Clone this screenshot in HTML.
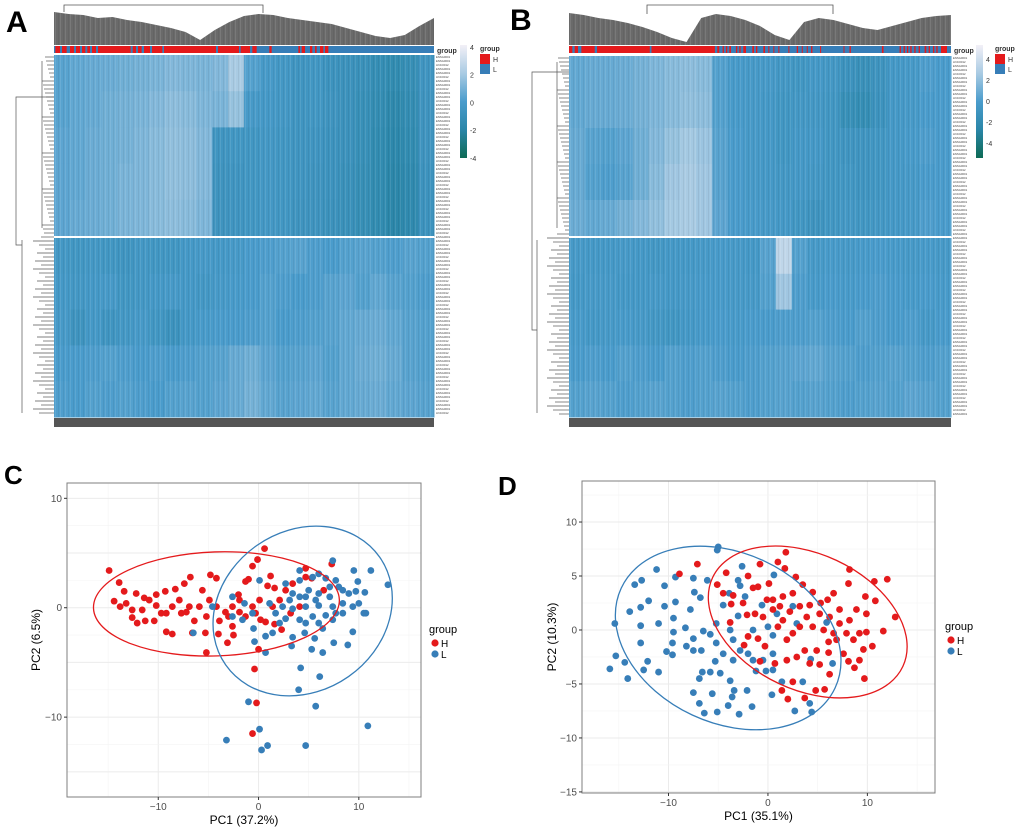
<!DOCTYPE html>
<html><head><meta charset="utf-8"><style>
html,body{margin:0;padding:0;background:#fff;}
svg{display:block;font-family:"Liberation Sans",Arial,sans-serif;}
</style></head><body>
<svg id="fig" width="1020" height="831" viewBox="0 0 1020 831">
<defs>
<linearGradient id="cbar" x1="0" y1="0" x2="0" y2="1">
<stop offset="0" stop-color="#f2f0f7"/><stop offset="0.25" stop-color="#a9cbe3"/><stop offset="0.5" stop-color="#4a9ccc"/><stop offset="0.75" stop-color="#2a86a8"/><stop offset="1" stop-color="#0e6b55"/>
</linearGradient>
<pattern id="stripes" width="5" height="4" patternUnits="userSpaceOnUse"><rect x="0" y="0" width="1" height="4" fill="#fff" opacity="0.10"/><rect x="3" y="0" width="1" height="4" fill="#000" opacity="0.06"/></pattern>
</defs>
<g id="layer"></g>
</svg>
<script>
// ---------- Heatmap data (coarse expression bands, 10 row-bands x 24 column-blocks) ----------
const heatA = [
[0.3,0.5,0.6,0.7,0.8,0.9,1.0,1.2,1.1,1.0,1.2,2.0,0.2,-0.2,-0.4,-0.6,-0.5,-0.8,-0.9,-1.0,-1.3,-1.5,-1.2,-0.6],
[0.3,0.5,0.6,0.8,0.9,1.0,1.2,1.4,1.3,1.1,1.0,1.6,-0.2,-0.3,-0.4,-0.6,-0.5,-0.7,-0.9,-1.1,-1.4,-1.7,-1.4,-0.7],
[0.4,0.5,0.7,0.8,0.9,1.1,1.3,1.5,1.4,1.2,-0.6,-0.5,-0.5,-0.4,-0.5,-0.6,-0.6,-0.8,-0.9,-1.1,-1.5,-1.8,-1.5,-0.7],
[0.4,0.5,0.7,0.8,1.0,1.1,1.3,1.5,1.4,1.2,-0.7,-0.6,-0.5,-0.4,-0.5,-0.6,-0.7,-0.8,-1.0,-1.2,-1.5,-1.9,-1.6,-0.8],
[0.4,0.6,0.7,0.8,1.0,1.1,1.3,1.4,1.3,1.1,-0.7,-0.6,-0.5,-0.4,-0.5,-0.7,-0.7,-0.9,-1.0,-1.2,-1.5,-1.9,-1.6,-0.8],
[-0.4,-0.5,-0.4,-0.5,-0.6,-0.4,-0.5,-0.5,-0.3,-0.2,-0.3,-0.2,0,0.1,0.2,0.3,0.1,0,0.2,0.3,0.2,0.1,0.3,0.2],
[-0.3,-0.4,-0.3,-0.2,-0.5,-0.4,-0.3,-0.2,-0.3,-0.4,-0.2,-0.1,0,0.2,0.1,0,0.1,0.3,0.4,0.2,0.5,0.3,0.2,0.1],
[-0.2,-0.7,-0.3,-0.6,-0.4,-0.2,-0.5,-0.8,-0.3,-0.1,0,0,0.1,0.2,0,0.1,0.2,0.3,0.5,0.6,0.7,0.5,0.3,0.2],
[0,0,0.1,0.2,0.1,0,0.1,0,0.1,0.2,0.3,0.6,0.8,0.4,0.2,0.3,0.4,0.2,0.5,0.7,0.8,0.6,0.3,0.2],
[0.1,0,0.2,0.1,0.2,0.1,0,0.2,0.3,0.2,0.4,0.6,0.9,0.5,0.3,0.4,0.5,0.3,0.5,0.6,0.7,0.5,0.4,0.3]
];
const heatB = [
[0.5,0.6,0.6,0.7,0.9,1.1,1.3,1.4,1.3,0.2,-0.1,-0.2,-0.2,-0.4,-0.5,-0.3,-0.4,-0.8,-1.0,-0.7,-0.3,-0.2,0.1,0.0],
[0.5,0.6,0.6,0.7,0.9,1.1,1.3,1.5,1.4,0.2,-0.1,-0.2,-0.3,-0.5,-0.4,-0.4,-0.5,-1.1,-1.3,-0.8,-0.3,-0.2,0,0],
[0.6,0.3,0.2,0.4,0.8,1.2,1.6,1.9,1.7,0.3,0,-0.2,-0.3,-0.5,-0.3,-0.3,-0.5,-0.6,-0.6,-0.5,-0.3,-0.1,0.1,0],
[0.6,0.2,0.1,0.3,0.8,1.3,1.8,2.0,1.8,0.3,0,-0.2,-0.3,-0.4,-0.3,-0.4,-0.5,-0.5,-0.6,-0.5,-0.3,-0.2,0,0],
[0.7,0.5,0.6,0.9,1.2,1.5,1.9,2.0,1.8,0.4,0,-0.1,-0.2,-0.3,-0.5,-0.7,-0.5,-0.4,-0.5,-0.4,-0.3,-0.2,0.1,0],
[-0.2,-0.3,-0.3,-0.2,-0.3,-0.4,-0.3,-0.3,-0.2,-0.1,-0.2,-0.3,0.3,2.6,0.2,-0.2,-0.1,-0.2,-0.1,0,-0.1,-0.2,-0.1,-0.2],
[-0.3,-0.2,-0.2,-0.3,-0.3,-0.2,-0.3,-0.2,-0.1,-0.1,-0.2,-0.2,0.2,1.8,0.1,-0.1,0,-0.1,0,0.1,0,-0.1,0,-0.1],
[-0.1,-0.3,-0.2,-0.1,-0.2,-0.4,-0.5,-0.3,-0.1,0,-0.1,0,0,0.1,0.1,0.2,0.1,0,0.2,0.1,0,0.1,-0.2,0],
[0,0.1,0,0.2,0.1,0,0.2,0.1,0.2,0.1,0,0.1,0.2,0.3,0.4,0.5,0.3,0.2,0.1,0.2,0.3,0.2,0.1,0.2],
[0.2,0.3,0.2,0.1,0.2,0.3,0.2,0.1,0.2,0.3,0.2,0.1,0.2,0.3,0.2,0.3,0.2,0.1,0.2,0.3,0.2,0.4,0.3,0.2]
];
// group annotation: runs of "H" samples on a 0..1140 sample-order scale; rest are "L"
const groupA_H = [[4,18],[24,38],[48,60],[66,78],[84,94],[100,108],[114,126],[132,230],[236,246],[252,263],[270,288],[294,325],[330,486],[492,555],[560,588],[595,608],[646,653],[733,738],[743,753],[768,775],[783,788],[798,808],[813,823]];
const groupB_H = [[0,10],[17,27],[37,77],[84,242],[247,437],[444,450],[460,464],[470,474],[480,485],[500,504],[510,514],[522,530],[549,554],[560,564],[582,587],[597,600],[612,615],[627,630],[657,660],[682,686],[697,700],[712,715],[725,729],[752,755],[822,825],[840,844],[937,942],[990,994],[1002,1006],[1012,1016],[1022,1026],[1034,1038],[1047,1051],[1065,1070],[1077,1081],[1090,1094],[1100,1104],[1114,1132]];
const cbarTicks = ["4","2","0","-2","-4"];

// ---------- PCA data ----------
const C_H_x=[-14.9,-13.9,-13.4,-14.4,-13.8,-12.6,-12.6,-12.1,-11.3,-10.4,-12.2,-11.4,-10.2,-9.3,-8.3,-9.2,-8.6,-9.7,-7.7,-7.4,-6.8,-6.6,-6.4,-5.6,-5.2,-5.3,-4.8,-4.2,-4.0,-3.1,-3.0,-2.5,-2.0,-1.3,-1.0,-0.6,-0.1,0.6,1.2,0.9,1.6,-4.2,-5.9,-7.9,-10.9,-13.2,-0.6,-0.3,0.2,0.7,1.6,2.3,2.7,3.4,3.2,4.1,4.7,4.7,5.3,6.5,7.3,0.0,-0.4,-0.2,-0.6,-2.6,-1.9,-1.3,-3.3,-4.9,-6.9,-7.2,-8.6,-9.2,-10.2,-11.6,-5.2,-3.9,-2.6,-1.9,0.1,1.4,2.1];
const C_H_y=[3.4,2.3,1.5,0.6,0.1,-0.2,-0.9,-1.4,-1.2,-1.2,1.3,0.9,1.2,1.5,1.7,-2.2,-2.4,-0.5,-0.5,2.2,2.8,-2.3,-1.2,1.6,-4.1,-2.3,3.0,2.7,-2.4,-3.2,-0.8,-2.5,1.2,2.4,2.6,3.8,4.4,5.4,2.9,2.0,1.8,0.1,0.1,0.7,0.7,0.4,0.1,-0.5,-1.1,-1.3,-1.5,-2.0,1.6,2.2,-0.5,0.1,3.6,2.8,2.7,1.6,4.0,-3.8,-5.6,-8.7,-11.5,0.1,-0.4,-0.8,-0.4,0.7,0.1,-0.4,0.1,-0.5,0.2,-0.2,-0.8,-1.2,-1.7,0.7,0.7,0.1,0.7];
const C_L_x=[7.4,9.5,11.2,12.9,9.9,10.6,10.7,9.4,8.9,7.5,6.4,5.3,3.3,4.2,6.1,4.0,5.7,10.9,4.7,0.9,0.3,0.1,-1.0,-3.2,0.7,-0.4,-0.5,0.7,1.4,-6.5,-4.6,-2.6,-1.4,0.1,2.7,4.1,5.4,6.7,7.7,8.4,9.0,10.0,8.4,7.1,6.0,5.0,4.1,3.1,2.4,3.4,4.7,6.0,7.4,8.4,6.7,5.4,4.1,2.7,2.1,4.7,6.0,7.4,6.4,4.6,5.6,3.4,1.7,1.1,-0.6,-1.6,-2.6,3.4,4.7,5.7,7.1,8.0,9.4,9.7,10.5,7.7,4.1,6.0];
const C_L_y=[4.3,3.4,3.4,2.1,2.4,1.4,-0.5,-2.2,-3.4,-3.2,-4.1,-3.8,-3.5,-5.5,-6.3,-7.5,-9.0,-10.8,-12.6,-12.6,-13.0,-11.1,-8.6,-12.1,-4.1,-3.1,-1.9,-2.6,-2.3,-2.3,0.1,1.0,0.4,2.5,2.2,2.5,2.8,2.7,2.5,1.6,1.3,0.4,0.4,1.0,1.3,1.6,1.0,0.7,0.1,-0.1,0.1,0.2,0.1,-0.5,-0.7,-0.8,-1.1,-1.0,-1.4,-1.4,-1.4,-1.1,-1.9,-2.3,-2.8,-2.7,-0.5,0.4,-0.5,-1.1,-0.8,1.3,1.0,0.7,1.9,1.9,0.1,1.5,-0.5,-0.5,3.4,3.1];
const D_H_x=[-8.9,-7.1,-5.1,-4.5,-4.2,-3.5,-3.7,-3.8,-2.5,-2.0,-1.5,-1.0,-0.8,0.1,1.0,1.8,1.7,2.8,3.5,4.5,5.3,6.0,6.6,8.1,8.2,10.7,12.0,10.8,9.8,12.8,11.6,10.5,9.6,9.7,9.2,8.7,8.1,7.6,6.2,5.7,4.8,3.7,2.5,2.0,1.4,0.7,-0.8,-0.3,-2.0,-2.4,-1.0,-1.3,-0.5,0.5,1.2,1.5,1.0,1.9,2.5,3.2,3.9,4.5,5.6,6.6,7.2,8.2,8.9,9.9,9.9,8.6,6.9,6.1,4.9,3.7,2.9,1.9,4.2,5.2,6.1,2.2,3.2,4.2,5.2,6.2,7.2,0.5,1.5,2.5,-0.1,-2.1,7.9,9.2];
const D_H_y=[5.2,6.1,4.2,3.4,5.3,3.2,2.4,0.7,2.5,5.0,3.9,4.0,6.1,4.3,6.3,7.2,5.7,4.9,4.2,3.5,2.5,2.8,3.4,4.3,5.6,4.5,4.7,2.7,3.1,1.2,-0.1,-1.5,-1.8,-4.5,-2.8,-3.5,-2.9,-2.2,-4.1,-5.5,-5.6,-6.3,-4.8,-6.4,-5.6,-3.1,-2.9,-1.5,-0.6,-1.4,-0.8,1.5,1.2,1.9,2.2,0.9,0.3,-0.9,-0.3,0.3,1.2,0.3,0,-0.3,0.6,0.9,1.9,1.5,-0.2,-0.9,-0.9,-1.1,-1.9,-1.9,-2.5,-2.8,-3.1,-3.2,-2.1,1.7,2.2,2.3,1.5,1.2,1.9,2.8,3.1,3.4,2.8,1.4,-0.3,-0.3];
const D_L_x=[-5.0,-5.1,-11.2,-12.7,-13.4,-13.9,-12.8,-12.0,-10.4,-9.3,-10.4,-11.0,-12.8,-15.4,-12.8,-12.1,-12.5,-11.0,-14.1,-14.4,-15.3,-15.9,-9.6,-9.6,-9.5,-9.5,-9.3,-8.3,-7.8,-7.5,-7.4,-6.8,-6.1,-7.5,-7.5,-6.7,-6.5,-5.8,-7.5,-6.9,-6.4,-5.1,-5.6,-6.9,-6.6,-5.8,-5.3,-4.8,-3.8,-3.4,-3.6,-4.0,-2.9,-2.1,-1.6,-1.2,-0.2,0.5,0.4,1.4,2.7,3.5,4.2,4.4,4.3,6.5,5.9,-2.6,-3.0,-2.8,-2.3,-3.0,-3.9,-4.5,-5.2,-5.2,-4.5,-3.5,-2.8,-2.0,-1.5,-0.5,0.6,-0.6,0.0,0.5,0.9,2.5,2.9,0.5,-3.5,-3.8,-1.5,-8.2,-10.2];
const D_L_y=[7.7,7.4,5.6,4.6,4.2,1.7,2.1,2.7,4.1,4.9,2.2,0.6,0.4,0.6,-1.2,-2.9,-3.7,-3.9,-4.5,-3.0,-2.4,-3.6,-2.3,-1.2,-0.2,1.1,2.6,0.2,1.9,4.8,3.5,3.0,4.6,-0.8,-1.9,-1.9,-0.1,-0.4,-5.8,-6.8,-7.7,-7.6,-5.9,-4.5,-3.9,-3.9,-2.9,-4.0,-4.7,-5.6,-6.2,-7.0,-7.8,-5.6,-7.1,-3.8,-3.8,-3.7,-6.0,-4.8,-7.5,-4.8,-6.8,-7.6,-2.7,-3.1,0.7,5.9,4.6,4.1,3.1,1.3,3.4,2.3,0.6,-1.2,-2.2,-2.8,-1.9,-2.2,-2.8,-2.8,5.1,2.3,0.3,-0.5,1.5,2.2,0.6,-2.2,-0.9,0,0,-1.5,-2.0];
// 68% confidence ellipses: [cx, cy] in data units
const C_ellH=[-4.2,0.35], C_ellL=[4.4,-0.3], D_ellL=[-4.0,-0.74], D_ellH=[4.0,0.74];
const C_xticks=[-10,0,10], C_yticks=[-10,0,10], D_xticks=[-10,0,10], D_yticks=[-15,-10,-5,0,5,10];

const NS="http://www.w3.org/2000/svg";
const layer=document.getElementById('layer');
function mk(tag,attrs,parent){const e=document.createElementNS(NS,tag);for(const k in attrs)e.setAttribute(k,attrs[k]);(parent||layer).appendChild(e);return e;}
function txt(s,attrs,parent){const e=mk('text',attrs,parent);e.textContent=s;return e;}
const RED="#e41a1c", BLUE="#377eb8";

function hcolor(v){
  const stops=[[-4,[14,107,85]],[-2,[42,134,168]],[0,[74,156,204]],[2,[169,203,227]],[4,[242,240,247]]];
  v=Math.max(-4,Math.min(4,v));
  for(let i=0;i<stops.length-1;i++){const a=stops[i],b=stops[i+1];if(v<=b[0]){const t=(v-a[0])/(b[0]-a[0]);const c=a[1].map((x,j)=>Math.round(x+(b[1][j]-x)*t));return `rgb(${c[0]},${c[1]},${c[2]})`;}}
  return "#fff";
}

function heatmap(o){
  const g=mk('g',{});
  
  
  txt(o.letter,{x:o.lx,y:o.ly,'font-size':30,'font-weight':'bold',fill:'#000'},g);
  // column dendrogram
  const dg=mk('g',{},g);
  
  
  let pts=`${o.x0},45 `;
  o.profile.forEach((p,i)=>{const x=o.x0+(o.x1-o.x0)*i/(o.profile.length-1);pts+=`${x},${p} `;});
  pts+=`${o.x1},45`;
  mk('polygon',{points:pts,fill:'#6a6a6a'},dg);
  mk('polygon',{points:pts,fill:'url(#stripes)'},dg);
  mk('path',{d:`M${o.br[0]},${o.br[2]} V5 H${o.br[1]} V${o.br[3]}`,stroke:'#555',fill:'none','stroke-width':0.8},dg);
  // group bar
  const gb=mk('g',{},g);
  
  
  const W=o.x1-o.x0, sc=W/o.N;
  mk('rect',{x:o.x0,y:46,width:W,height:7,fill:BLUE},gb);
  o.groupH.forEach(r=>{const s=mk('rect',{x:o.x0+r[0]*sc,y:46,width:(r[1]-r[0])*sc,height:7,fill:RED},gb);});
  txt('group',{x:o.x1+3,y:53,'font-size':7,'font-weight':'bold',fill:'#333'},g);
  // cells
  const cg=mk('g',{},g);
  
  
  const nr=o.data.length, nc=o.data[0].length, cw=W/nc;
  const topH=(o.split-o.y0)/5, botH=(o.y1-o.split-2)/5;
  o.data.forEach((row,ri)=>{
    const y= ri<5 ? o.y0+ri*topH : o.split+2+(ri-5)*botH;
    const h= ri<5 ? topH : botH;
    row.forEach((v,ci)=>{const c=mk('rect',{x:o.x0+ci*cw,y:y,width:cw+0.5,height:h+0.5,fill:hcolor(v)},cg);});
  });
  mk('rect',{x:o.x0,y:o.y0,width:W,height:o.y1-o.y0,fill:'url(#stripes)'},cg);
  mk('rect',{x:o.x0,y:o.split,width:W,height:2,fill:'#fff'},cg);
  // column labels strip
  mk('rect',{x:o.x0,y:o.y1+1,width:W,height:9,fill:'#555'},g);
  // row dendrogram
  const rd=mk('g',{stroke:'#555',fill:'none','stroke-width':0.7},g);
  
  
  mk('path',{d:`M${o.x0},${o.rdTopMid} H${o.rdRoot} V${o.rdBotMid} H${o.x0-32}`},rd);
  for(let y=o.y0+2;y<o.y1;y+=4){const lx= y<o.split ? o.x0-12+((y*7)%9) : o.x0-22+((y*5)%14);mk('path',{d:`M${o.x0},${y} H${lx}`},rd);}
  mk('path',{d:`M${o.x0-12},${o.y0+6} V${o.split-8} M${o.x0-32},${o.split+4} V${o.y1-4}`},rd);
  // row labels
  const rl=mk('g',{'font-size':2.8,fill:'#444'},g);
  
  
  for(let y=o.y0+3;y<o.y1;y+=4){txt(y%3?'ENSG0001':'LINC0012',{x:o.x1+2,y:y},rl);}
  // colorbar
  const cb=mk('g',{},g);
  
  
  mk('rect',{x:o.cbx,y:45,width:7,height:113,fill:'url(#cbar)'},cb);
  cbarTicks.forEach((t,i)=>txt(t,{x:o.cbx+10,y:o.cbt[0]+i*o.cbt[1]+3,'font-size':7,fill:'#333'},cb));
  // group legend
  const lg=mk('g',{},g);
  
  
  txt('group',{x:o.lgx,y:51,'font-size':7,'font-weight':'bold',fill:'#333'},lg);
  mk('rect',{x:o.lgx,y:54,width:10,height:10,fill:RED},lg);
  mk('rect',{x:o.lgx,y:64,width:10,height:10,fill:BLUE},lg);
  txt('H',{x:o.lgx+13,y:62,'font-size':7,fill:'#333'},lg);
  txt('L',{x:o.lgx+13,y:72,'font-size':7,fill:'#333'},lg);
}

heatmap({name:'heatmap-a',letter:'A',lx:6,ly:32,x0:54,x1:434,y0:55,y1:417,split:236,data:heatA,groupH:groupA_H,N:1140,
  profile:[12,14,15,18,17,20,22,25,28,32,40,30,22,16,14,15,18,20,22,24,28,32,36,38,35,26,18],
  br:[64,263,12,13],rdRoot:16,rdTopMid:97,rdBotMid:245,cbx:460,cbt:[47,27.7],lgx:480});
heatmap({name:'heatmap-b',letter:'B',lx:510,ly:30,x0:569,x1:951,y0:56,y1:417,split:236,data:heatB,groupH:groupB_H,N:1144,
  profile:[13,15,18,20,23,27,32,38,42,18,14,16,20,26,35,40,22,18,20,24,28,30,26,22,18,16,15],
  br:[647,833,14,14],rdRoot:532,rdTopMid:72,rdBotMid:330,cbx:976,cbt:[59,21],lgx:995});

// ---------- PCA panels ----------
function pca(o){
  const g=mk('g',{});
  
  
  const X=v=>o.px0+(v-o.xmin)/(o.xmax-o.xmin)*(o.px1-o.px0);
  const Y=v=>o.py1-(v-o.ymin)/(o.ymax-o.ymin)*(o.py1-o.py0);
  txt(o.letter,{x:o.lx,y:o.ly,'font-size':26,'font-weight':'bold',fill:'#000'},g);
  mk('rect',{x:o.px0,y:o.py0,width:o.px1-o.px0,height:o.py1-o.py0,fill:'#fff'},g);
  const grid=mk('g',{},g);
  
  
  for(let v=Math.ceil(o.xmin/5)*5;v<=o.xmax;v+=5){mk('line',{x1:X(v),x2:X(v),y1:o.py0,y2:o.py1,stroke:v%10===0?'#ebebeb':'#f4f4f4','stroke-width':v%10===0?1:0.6},grid);}
  for(let v=Math.ceil(o.ymin/2.5)*2.5;v<=o.ymax;v+=2.5){const maj=(v%5===0);mk('line',{x1:o.px0,x2:o.px1,y1:Y(v),y2:Y(v),stroke:maj?'#ebebeb':'#f4f4f4','stroke-width':maj?1:0.6},grid);}
  const ell=(c,rx,ry,rot,col,nm)=>{const e=mk('ellipse',{cx:X(c[0]),cy:Y(c[1]),rx:rx,ry:ry,transform:`rotate(${rot} ${X(c[0])} ${Y(c[1])})`,fill:'none',stroke:col,'stroke-width':1.3},g);};
  const pts=(xs,ys,col,nm)=>{const pg=mk('g',{fill:col},g);xs.forEach((x,i)=>{const c=mk('circle',{cx:X(x),cy:Y(ys[i]),r:3.4},pg);});};
  o.draw(pts,ell);
  mk('rect',{x:o.px0,y:o.py0,width:o.px1-o.px0,height:o.py1-o.py0,fill:'none',stroke:'#7f7f7f','stroke-width':1},g);
  const ax=mk('g',{'font-size':10,fill:'#4d4d4d'},g);
  
  
  o.xt.forEach(v=>{mk('line',{x1:X(v),x2:X(v),y1:o.py1,y2:o.py1+3,stroke:'#333'},ax);txt(v<0?'\u2212'+(-v):String(v),{x:X(v),y:o.py1+13,'text-anchor':'middle'},ax);});
  o.yt.forEach(v=>{mk('line',{x1:o.px0-3,x2:o.px0,y1:Y(v),y2:Y(v),stroke:'#333'},ax);txt(v<0?'\u2212'+(-v):String(v),{x:o.px0-5,y:Y(v)+3.5,'text-anchor':'end'},ax);});
  txt(o.xlab,{x:(o.px0+o.px1)/2,y:o.py1+27,'text-anchor':'middle','font-size':12,fill:'#000'},g);
  const yl=txt(o.ylab,{x:0,y:0,'text-anchor':'middle','font-size':12,fill:'#000',transform:`translate(${o.ylx},${(o.py0+o.py1)/2}) rotate(-90)`},g);
  
  const lg=mk('g',{},g);
  
  
  txt('group',{x:o.lgx,y:o.lgy,'font-size':11,fill:'#000'},lg);
  mk('circle',{cx:o.lgx+6,cy:o.lgy+10,r:3.6,fill:RED},lg);
  txt('H',{x:o.lgx+12,y:o.lgy+14,'font-size':10,fill:'#000'},lg);
  mk('circle',{cx:o.lgx+6,cy:o.lgy+21,r:3.6,fill:BLUE},lg);
  txt('L',{x:o.lgx+12,y:o.lgy+25,'font-size':10,fill:'#000'},lg);
}

pca({name:'pca-plot-c',letter:'C',lx:4,ly:484,px0:67,px1:421,py0:483,py1:797,xmin:-19.1,xmax:16.2,ymin:-17.3,ymax:11.4,
  xt:C_xticks,yt:C_yticks,xlab:'PC1 (37.2%)',ylab:'PC2 (6.5%)',ylx:40,lgx:429,lgy:633,
  draw:(pts,ell)=>{pts(C_H_x,C_H_y,RED,'series-h');pts(C_L_x,C_L_y,BLUE,'series-l');ell(C_ellH,123,52,-2,RED,'ellipse-h');ell(C_ellL,94,80,-35,BLUE,'ellipse-l');}});
pca({name:'pca-plot-d',letter:'D',lx:498,ly:495,px0:582,px1:935,py0:481,py1:793,xmin:-18.7,xmax:16.8,ymin:-15.1,ymax:13.8,
  xt:D_xticks,yt:D_yticks,xlab:'PC1 (35.1%)',ylab:'PC2 (10.3%)',ylx:556,lgx:945,lgy:630,
  draw:(pts,ell)=>{pts(D_L_x,D_L_y,BLUE,'series-l');pts(D_H_x,D_H_y,RED,'series-h');ell(D_ellL,118,85,25,BLUE,'ellipse-l');ell(D_ellH,105,68,25,RED,'ellipse-h');}});
</script>
</body></html>
